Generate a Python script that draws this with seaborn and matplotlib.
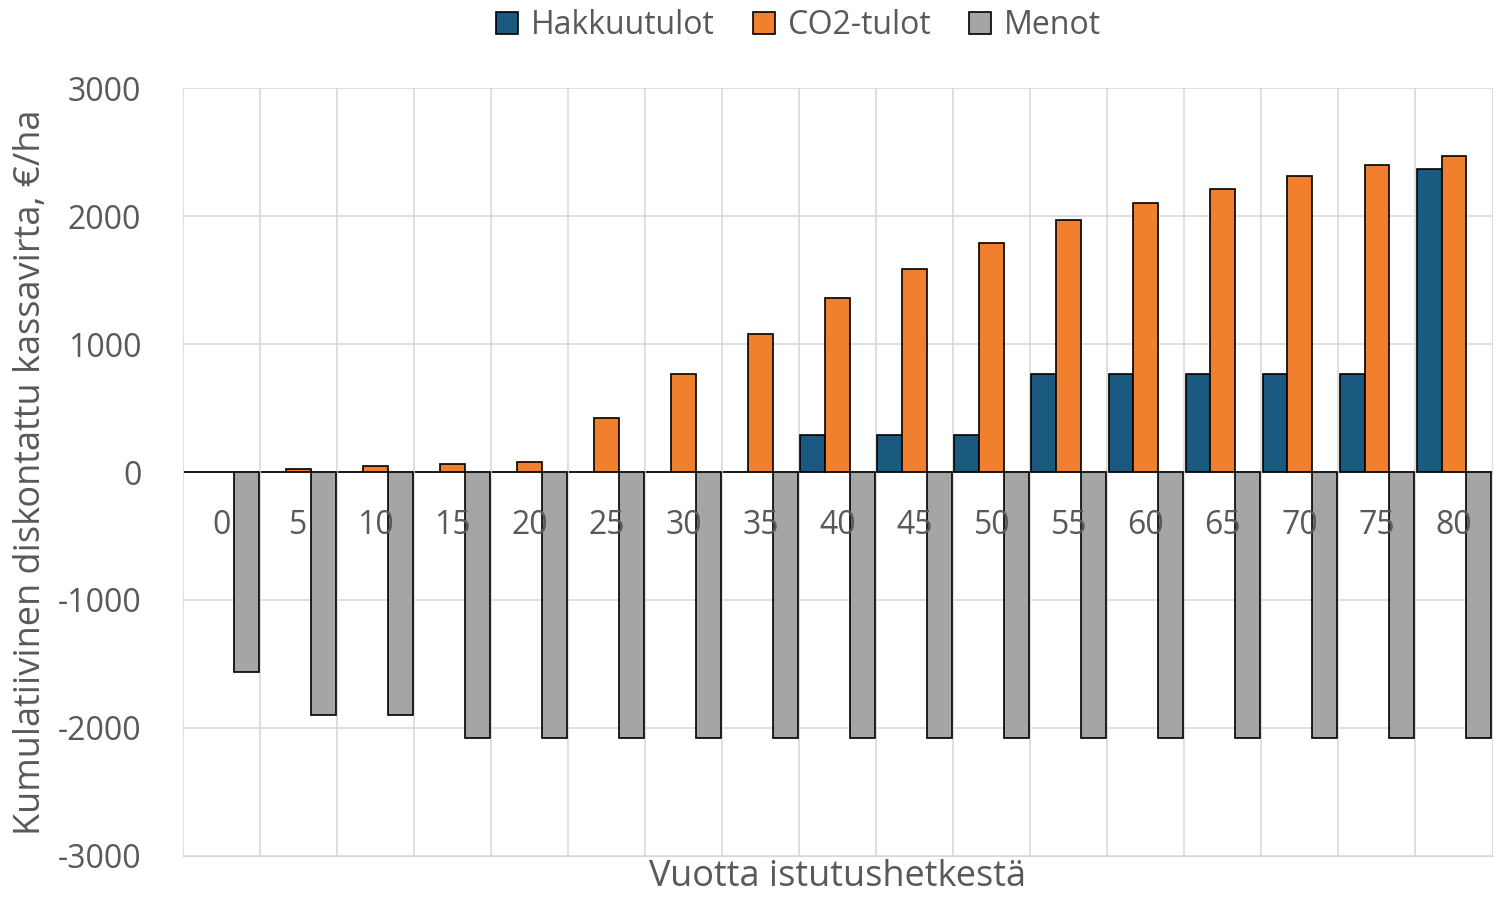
import pandas as pd
import matplotlib.pyplot as plt
import seaborn as sns

years = [0, 5, 10, 15, 20, 25, 30, 35, 40, 45, 50, 55, 60, 65, 70, 75, 80]
hakkuutulot = [0, 0, 0, 0, 0, 0, 0, 0, 290, 290, 290, 770, 770, 770, 770, 770, 2370]
co2_tulot = [0, 20, 45, 65, 80, 420, 770, 1080, 1360, 1590, 1790, 1970, 2100, 2210, 2310, 2400, 2470]
menot = [-1560, -1900, -1900, -2080, -2080, -2080, -2080, -2080, -2080, -2080,
         -2080, -2080, -2080, -2080, -2080, -2080, -2080]
series_names = ["Hakkuutulot", "CO2-tulot", "Menot"]
colors = ["#1A5A80", "#F07F2E", "#A5A5A5"]

df = pd.DataFrame({"year": years, series_names[0]: hakkuutulot,
                   series_names[1]: co2_tulot, series_names[2]: menot})
df_long = df.melt(id_vars="year", var_name="sarja", value_name="arvo")
df_long["year"] = df_long["year"].astype(str)

plt.rcParams["font.family"] = "Open Sans"
plt.rcParams["axes.unicode_minus"] = False
text_col = "#595959"

fig = plt.figure(figsize=(15, 9), dpi=100)
ax = fig.add_axes([0.122, 0.049, 0.873, 0.853])
sns.barplot(data=df_long, x="year", y="arvo", hue="sarja", order=[str(y) for y in years],
            hue_order=series_names, palette=colors, saturation=1, width=0.97, gap=0,
            edgecolor="black", linewidth=1.2, ax=ax, zorder=3)

ax.set_ylim(-3000, 3000)
ax.set_xlim(-0.5, len(years) - 0.5)
ax.set_yticks(range(-3000, 3001, 1000))
ax.tick_params(axis="y", labelsize=23, labelcolor=text_col, length=0, pad=30)
ax.set_xticks([])
for i, y in enumerate(years):
    ax.text(i, -420, str(y), ha="center", va="center", fontsize=23, color=text_col, zorder=4)
for b in range(len(years) + 1):
    ax.axvline(b - 0.5, color="#D9D9D9", lw=1.2, zorder=0)
ax.grid(axis="y", color="#D9D9D9", lw=1.2, zorder=0)
ax.axhline(0, color="#BFBFBF", lw=1.5, zorder=2)
for s in ax.spines.values():
    s.set_visible(False)
ax.spines["bottom"].set_visible(True)
ax.spines["bottom"].set_color("#D9D9D9")

ax.set_xlabel("Vuotta istutushetkestä", fontsize=26, color=text_col, labelpad=2)
ax.set_ylabel("Kumulatiivinen diskontattu kassavirta, €/ha", fontsize=26, color=text_col, labelpad=6)

handles, labels = ax.get_legend_handles_labels()
ax.legend(handles, labels, loc="upper center", bbox_to_anchor=(0.47, 1.14), ncol=3,
          frameon=False, fontsize=23, labelcolor=text_col, handlelength=0.7,
          handleheight=0.7, columnspacing=1.2, handletextpad=0.4)

fig.savefig("out.png", dpi=100)
